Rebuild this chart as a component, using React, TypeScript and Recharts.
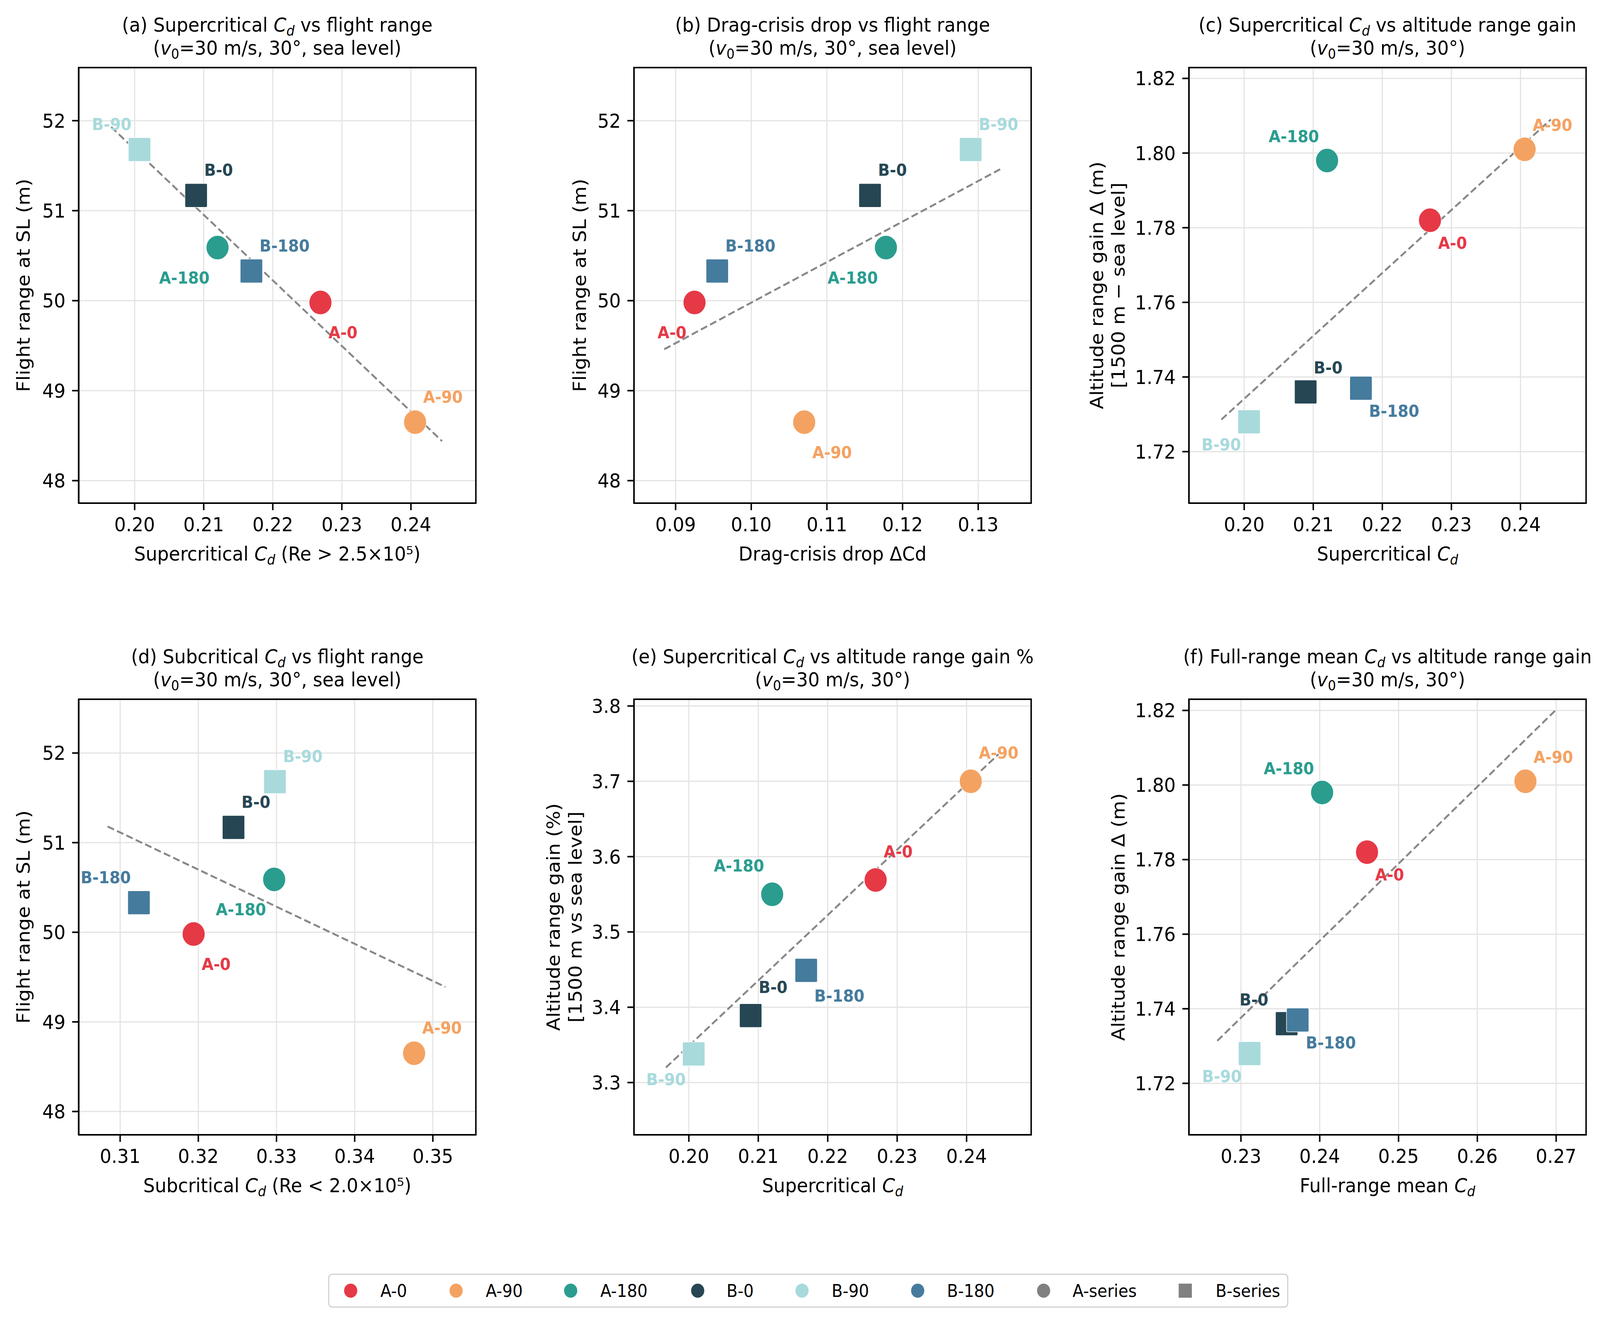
import React from 'react';
import { ScatterChart, Scatter, XAxis, YAxis, CartesianGrid, ReferenceLine, ReferenceArea } from 'recharts';

// ---------- data ----------
const CONFIGS = ['A-0', 'A-90', 'A-180', 'B-0', 'B-90', 'B-180'];
const COLORS = ['#e63946', '#f4a261', '#2a9d8f', '#264653', '#a8dadc', '#457b9d'];
const SHAPES = ['circle', 'circle', 'circle', 'square', 'square', 'square'];

const SUPER_CD = [0.2269, 0.2406, 0.2120, 0.2089, 0.2007, 0.2169];
const SUB_CD = [0.3194, 0.3476, 0.3297, 0.3245, 0.3298, 0.3124];
const DRAG_DROP = [0.0925, 0.1070, 0.1178, 0.1157, 0.1290, 0.0955];
const MEAN_CD = [0.2460, 0.2661, 0.2403, 0.2358, 0.2311, 0.2372];
const RANGE_SL = [49.98, 48.65, 50.59, 51.17, 51.68, 50.33];
const ALT_GAIN = [1.782, 1.801, 1.798, 1.736, 1.728, 1.737];
const ALT_GAIN_PCT = [3.569, 3.700, 3.550, 3.389, 3.338, 3.449];

const TREND_A = [[0.1966, 51.93], [0.2445, 48.44]];
const TREND_B = [[0.0885, 49.46], [0.1329, 51.46]];
const TREND_C = [[0.1967, 1.7286], [0.2444, 1.8090]];
const TREND_D = [[0.3084, 51.18], [0.3516, 49.39]];
const TREND_E = [[0.1967, 3.320], [0.2446, 3.736]];
const TREND_F = [[0.2270, 1.7314], [0.2700, 1.8202]];

const TICKS_SUPER = [0.20, 0.21, 0.22, 0.23, 0.24];
const TICKS_DROP = [0.09, 0.10, 0.11, 0.12, 0.13];
const TICKS_SUB = [0.31, 0.32, 0.33, 0.34, 0.35];
const TICKS_MEAN = [0.23, 0.24, 0.25, 0.26, 0.27];
const TICKS_RANGE = [48, 49, 50, 51, 52];
const TICKS_GAIN = [1.72, 1.74, 1.76, 1.78, 1.80, 1.82];
const TICKS_PCT = [3.3, 3.4, 3.5, 3.6, 3.7, 3.8];

const LEGEND_LABELS = ['A-0', 'A-90', 'A-180', 'B-0', 'B-90', 'B-180', 'A-series', 'B-series'];

// ---------- layout / style ----------
const FIG_W = 4371;
const FIG_H = 3397;
const FONT = 'DejaVu Sans';
const PANEL_LEFT = [215, 1732, 3248];
const PANEL_TOP = [173, 1790];
const PW = 1085;
const PH = 1115;
const YW = 300;
const MT = 40;
const MR = 40;
const XH = 140;

type Seg = [string, string?];

const SUB_CD_SEG: Seg[] = [['C', 'i'], ['d', 'si']];
const V0_LINE: Seg[] = [['('], ['v', 'i'], ['0', 's'], ['=30 m/s, 30°, sea level)']];
const V0_LINE_SHORT: Seg[] = [['('], ['v', 'i'], ['0', 's'], ['=30 m/s, 30°)']];

const PANELS = [
  {
    xs: SUPER_CD, ys: RANGE_SL, trend: TREND_A, xDomain: [0.1919, 0.2494], yDomain: [47.75, 52.59],
    xTicks: TICKS_SUPER, yTicks: TICKS_RANGE, xDec: 2, yDec: 0,
    title: [[['(a) Supercritical '], ...SUB_CD_SEG, [' vs flight range']], V0_LINE],
    xLabel: [['Supercritical '], ...SUB_CD_SEG, [' (Re > 2.5×10⁵)']],
    yLabel: ['Flight range at SL (m)'], yOff: [134],
    pos: ['lr', 'ur', 'll', 'ur', 'ul', 'ur'], up: -65, down: 77,
  },
  {
    xs: DRAG_DROP, ys: RANGE_SL, trend: TREND_B, xDomain: [0.0845, 0.1370], yDomain: [47.75, 52.59],
    xTicks: TICKS_DROP, yTicks: TICKS_RANGE, xDec: 2, yDec: 0,
    title: [[['(b) Drag-crisis drop vs flight range']], V0_LINE],
    xLabel: [['Drag-crisis drop ΔCd']],
    yLabel: ['Flight range at SL (m)'], yOff: [131],
    pos: ['ll', 'lr', 'll', 'ur', 'ur', 'ur'], up: -65, down: 77,
  },
  {
    xs: SUPER_CD, ys: ALT_GAIN, trend: TREND_C, xDomain: [0.1920, 0.2495], yDomain: [1.7062, 1.8229],
    xTicks: TICKS_SUPER, yTicks: TICKS_GAIN, xDec: 2, yDec: 2,
    title: [[['(c) Supercritical '], ...SUB_CD_SEG, [' vs altitude range gain']], V0_LINE_SHORT],
    xLabel: [['Supercritical '], ...SUB_CD_SEG],
    yLabel: ['Altitude range gain Δ (m)', '[1500 m − sea level]'], yOff: [234, 176],
    pos: ['lr', 'ur', 'ul', 'ur', 'll', 'lr'], up: -62, down: 58,
  },
  {
    xs: SUB_CD, ys: RANGE_SL, trend: TREND_D, xDomain: [0.3047, 0.3555], yDomain: [47.74, 52.6],
    xTicks: TICKS_SUB, yTicks: TICKS_RANGE, xDec: 2, yDec: 0,
    title: [[['(d) Subcritical '], ...SUB_CD_SEG, [' vs flight range']], V0_LINE],
    xLabel: [['Subcritical '], ...SUB_CD_SEG, [' (Re < 2.0×10⁵)']],
    yLabel: ['Flight range at SL (m)'], yOff: [134],
    pos: ['lr', 'ur', 'll', 'ur', 'ur', 'ul'], up: -65, down: 77,
  },
  {
    xs: SUPER_CD, ys: ALT_GAIN_PCT, trend: TREND_E, xDomain: [0.1921, 0.2493], yDomain: [3.2306, 3.809],
    xTicks: TICKS_SUPER, yTicks: TICKS_PCT, xDec: 2, yDec: 1,
    title: [[['(e) Supercritical '], ...SUB_CD_SEG, [' vs altitude range gain %']], V0_LINE_SHORT],
    xLabel: [['Supercritical '], ...SUB_CD_SEG],
    yLabel: ['Altitude range gain (%)', '[1500 m vs sea level]'], yOff: [203, 143],
    pos: ['ur', 'ur', 'ul', 'ur', 'll', 'lr'], up: -73, down: 65,
  },
  {
    xs: MEAN_CD, ys: ALT_GAIN, trend: TREND_F, xDomain: [0.2234, 0.2738], yDomain: [1.7062, 1.823],
    xTicks: TICKS_MEAN, yTicks: TICKS_GAIN, xDec: 2, yDec: 2,
    title: [[['(f) Full-range mean '], ...SUB_CD_SEG, [' vs altitude range gain']], V0_LINE_SHORT],
    xLabel: [['Full-range mean '], ...SUB_CD_SEG],
    yLabel: ['Altitude range gain Δ (m)'], yOff: [176],
    pos: ['lr', 'ur', 'ul', 'UL', 'll', 'lr'], up: -62, down: 58,
  },
];

function richText(segs: Seg[], size: number) {
  const out: any[] = [];
  let shift = 0;
  segs.forEach((s, k) => {
    const [t, kind] = s;
    const isSub = kind === 's' || kind === 'si';
    const target = isSub ? Math.round(size * 0.2) : 0;
    const dy = target - shift;
    shift = target;
    out.push(
      <tspan
        key={k}
        dy={dy !== 0 ? dy : undefined}
        fontStyle={kind === 'i' || kind === 'si' ? 'italic' : 'normal'}
        fontSize={isSub ? size * 0.7 : size}
      >
        {t}
      </tspan>
    );
  });
  return out;
}

function markerShape(i: number) {
  return (props: any) => {
    const { cx, cy } = props;
    if (cx == null || cy == null) return <g />;
    if (SHAPES[i] === 'circle') {
      return <circle cx={cx} cy={cy} r={31} fill={COLORS[i]} stroke="#ffffff" strokeWidth={1.5} />;
    }
    return <rect x={cx - 30.5} y={cy - 30.5} width={61} height={61} rx={3} ry={3} fill={COLORS[i]} stroke="#ffffff" strokeWidth={1.5} />;
  };
}

function labelShape(p: any) {
  return (props: any) => {
    const { cx, cy, payload } = props;
    if (cx == null || cy == null) return <g />;
    const i = payload.idx;
    const code = p.pos[i];
    const left = code[1] === 'l' || code[1] === 'L';
    const upper = code[0] === 'u' || code[0] === 'U';
    const dx = code === 'UL' ? -50 : left ? -22 : 22;
    const centerY = cy + (upper ? p.up : p.down);
    return (
      <text
        x={cx + dx}
        y={centerY + 15}
        textAnchor={left ? 'end' : 'start'}
        fontFamily={FONT}
        fontWeight="bold"
        fontSize={42}
        fill={COLORS[i]}
      >
        {CONFIGS[i]}
      </text>
    );
  };
}

function Panel({ p, left, top }: { p: any; left: number; top: number }) {
  const W = YW + PW + MR;
  const H = MT + PH + XH;
  const labelData = CONFIGS.map((name, i) => ({ x: p.xs[i], y: p.ys[i], idx: i }));
  const tickStyle = { fill: '#000000', fontSize: 50, fontFamily: FONT };
  return (
    <div style={{ position: 'absolute', left: left - YW, top: top - MT }}>
      <ScatterChart width={W} height={H} margin={{ top: MT, right: MR, bottom: 0, left: 0 }}>
        <CartesianGrid stroke="#e3e3e3" strokeWidth={3} />
        <XAxis
          type="number"
          dataKey="x"
          domain={p.xDomain}
          ticks={p.xTicks}
          allowDataOverflow
          height={XH}
          tickSize={18}
          tickMargin={19}
          tick={tickStyle}
          tickFormatter={(v: number) => v.toFixed(p.xDec)}
          axisLine={{ stroke: '#000000', strokeWidth: 4 }}
          tickLine={{ stroke: '#000000', strokeWidth: 4 }}
          interval={0}
        />
        <YAxis
          type="number"
          dataKey="y"
          domain={p.yDomain}
          ticks={p.yTicks}
          allowDataOverflow
          width={YW}
          tickSize={18}
          tickMargin={18}
          tick={tickStyle}
          tickFormatter={(v: number) => v.toFixed(p.yDec)}
          axisLine={{ stroke: '#000000', strokeWidth: 4 }}
          tickLine={{ stroke: '#000000', strokeWidth: 4 }}
          interval={0}
        />
        <ReferenceLine
          segment={[{ x: p.trend[0][0], y: p.trend[0][1] }, { x: p.trend[1][0], y: p.trend[1][1] }]}
          stroke="#888888"
          strokeWidth={5}
          strokeDasharray="19 9"
          ifOverflow="visible"
        />
        {CONFIGS.map((name, i) => (
          <Scatter
            key={name}
            name={name}
            data={[{ x: p.xs[i], y: p.ys[i], idx: i }]}
            shape={markerShape(i)}
            isAnimationActive={false}
          />
        ))}
        <Scatter name="labels" data={labelData} shape={labelShape(p)} isAnimationActive={false} />
        <ReferenceArea
          x1={p.xDomain[0]}
          x2={p.xDomain[1]}
          y1={p.yDomain[0]}
          y2={p.yDomain[1]}
          fill="none"
          fillOpacity={0}
          stroke="#000000"
          strokeWidth={4}
          ifOverflow="visible"
        />
      </ScatterChart>
    </div>
  );
}

function Overlay() {
  const items: any[] = [];
  PANELS.forEach((p, k) => {
    const left = PANEL_LEFT[k % 3];
    const top = PANEL_TOP[Math.floor(k / 3)];
    const cx = left + PW / 2;
    const cy = top + PH / 2;
    items.push(
      <text key={`t1${k}`} x={cx} y={top - 92} textAnchor="middle" fontFamily={FONT} fontSize={50} fill="#000">
        {richText(p.title[0] as Seg[], 50)}
      </text>
    );
    items.push(
      <text key={`t2${k}`} x={cx} y={top - 33} textAnchor="middle" fontFamily={FONT} fontSize={50} fill="#000">
        {richText(p.title[1] as Seg[], 50)}
      </text>
    );
    items.push(
      <text key={`xl${k}`} x={cx} y={top + PH + 147} textAnchor="middle" fontFamily={FONT} fontSize={50} fill="#000">
        {richText(p.xLabel as Seg[], 50)}
      </text>
    );
    p.yLabel.forEach((line: string, j: number) => {
      items.push(
        <text
          key={`yl${k}${j}`}
          transform={`translate(${left - p.yOff[j]},${cy}) rotate(-90)`}
          textAnchor="middle"
          fontFamily={FONT}
          fontSize={50}
          fill="#000"
        >
          {line}
        </text>
      );
    });
  });

  const markerX = [958, 1246, 1559, 1906, 2191, 2507, 2851, 3238];
  const textX = [1039, 1327, 1640, 1985, 2272, 2587, 2930, 3321];
  const ly = 3304;
  const legend = (
    <g key="legend">
      <rect x={898} y={3262} width={2620} height={84} rx={10} ry={10} fill="#ffffff" stroke="#d0d0d0" strokeWidth={3} />
      {LEGEND_LABELS.map((lab, i) => {
        const color = i < 6 ? COLORS[i] : '#808080';
        const square = i === 7;
        return (
          <g key={lab}>
            {square ? (
              <rect x={markerX[i] - 18} y={ly - 18} width={36} height={36} fill={color} />
            ) : (
              <circle cx={markerX[i]} cy={ly} r={18} fill={color} />
            )}
            <text x={textX[i]} y={ly + 16} fontFamily={FONT} fontSize={44} fill="#000">
              {lab}
            </text>
          </g>
        );
      })}
    </g>
  );

  return (
    <svg
      width={FIG_W}
      height={FIG_H}
      style={{ position: 'absolute', left: 0, top: 0, pointerEvents: 'none' }}
    >
      {items}
      {legend}
    </svg>
  );
}

export default function App() {
  const vw = typeof window !== 'undefined' ? window.innerWidth : FIG_W;
  const vh = typeof window !== 'undefined' ? window.innerHeight : FIG_H;
  const sx = Math.min(1, vw / FIG_W);
  const sy = Math.min(1, vh / FIG_H);
  return (
    <div style={{ position: 'fixed', left: 0, top: 0, right: 0, bottom: 0, overflow: 'hidden', background: '#ffffff' }}>
      <div
        style={{
          position: 'absolute',
          left: 0,
          top: 0,
          width: FIG_W,
          height: FIG_H,
          background: '#ffffff',
          fontFamily: FONT,
          transform: `scale(${sx}, ${sy})`,
          transformOrigin: '0 0',
        }}
      >
        <style>{`.recharts-surface{overflow:visible}`}</style>
        {PANELS.map((p, k) => (
          <Panel key={k} p={p} left={PANEL_LEFT[k % 3]} top={PANEL_TOP[Math.floor(k / 3)]} />
        ))}
        <Overlay />
      </div>
    </div>
  );
}
